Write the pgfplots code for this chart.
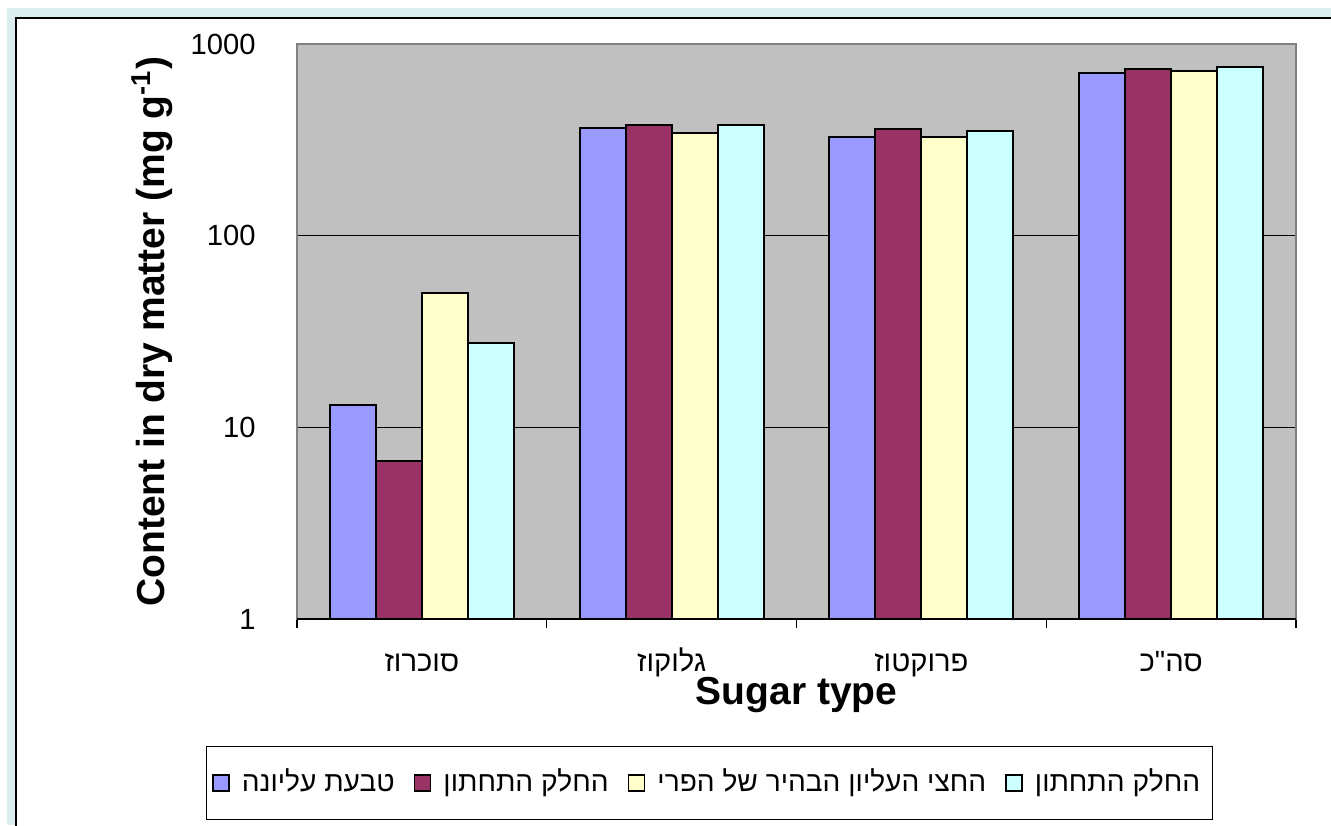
\documentclass[border=0pt]{standalone}
\usepackage{fontspec}
\setmainfont{Liberation Sans}
\newfontfamily\heb[Script=Hebrew]{Liberation Sans}
\usepackage{pgfplots}
\pgfplotsset{compat=1.18}
\TeXXeTstate=1
\definecolor{sA}{RGB}{153,153,255}
\definecolor{sB}{RGB}{153,51,102}
\definecolor{sC}{RGB}{255,255,204}
\definecolor{sD}{RGB}{204,255,255}
\definecolor{plotbg}{RGB}{192,192,192}
\definecolor{band}{RGB}{221,238,240}
\pgfplotsset{/pgfplots/ybar legend/.style={/pgfplots/legend image code/.code={\draw[##1,line width=0.5pt] (0cm,-0.08cm) rectangle (0.16cm,0.08cm);}}}
\newcommand{\tk}{\fontsize{8.3pt}{10pt}\selectfont}
\newcommand{\lgf}{\fontsize{8pt}{10pt}\selectfont}
\newcommand{\lb}{\fontsize{11.1pt}{13pt}\selectfont\bfseries}
\begin{document}
\begin{tikzpicture}
\useasboundingbox (0,0) rectangle (13.31cm,8.25cm);
\clip (0,0) rectangle (13.31cm,8.25cm);
\fill[white] (0,0) rectangle (13.31cm,8.25cm);
\fill[band] (0.07cm,0) rectangle (13.31cm,8.17cm);
\filldraw[fill=white,draw=black,line width=0.4pt] (0.16cm,-0.5cm) rectangle (14cm,8.07cm);
\begin{axis}[
  at={(2.97cm,2.06cm)}, anchor=south west,
  scale only axis, width=9.99cm, height=5.75cm,
  ymode=log, ymin=1, ymax=1000,
  xmin=-0.5, xmax=3.5,
  ybar=0pt, bar width=0.46cm,
  axis background/.style={fill=plotbg},
  axis line style={draw=gray, line width=0.57pt},
  ymajorgrids, major grid style={black, line width=0.3pt},
  xtick={0,1,2,3},
  xticklabels={\beginR סוכרוז\endR, \beginR גלוקוז\endR, \beginR פרוקטוז\endR, \beginR סה"כ\endR},
  minor xtick={-0.5,0.5,1.5,2.5,3.5},
  major tick length=0pt, minor tick length=0.09cm,
  tick align=outside, tick pos=left,
  minor tick style={black, line width=0.3pt},
  yminorticks=false,
  ytick={1,10,100,1000}, yticklabels={1,10,100,1000},
  /pgf/number format/assume math mode=true,
  yticklabel style={font=\tk, xshift=-0.29cm},
  xticklabel style={font=\tk\heb, anchor=base, yshift=-0.52cm},
  xlabel={Sugar type}, ylabel={Content in dry matter (mg g\textsuperscript{-1})},
  xlabel style={font=\lb, at={(axis description cs:0.5,-0.132)}, anchor=center},
  ylabel style={font=\lb, at={(axis description cs:-0.145,0.5)}, anchor=center},
  legend style={at={(axis description cs:0.413,-0.285)}, anchor=center, draw=black, line width=0.4pt,
    font=\lgf\heb, legend columns=4, inner xsep=1.5pt, inner ysep=4.4pt,
    /tikz/every even column/.append style={column sep=0.12cm},
    /tikz/every odd column/.append style={column sep=0.05cm}},
]
\addplot[fill=sA, draw=black, line width=0.6pt] coordinates {(0,13.1) (1,364) (2,327) (3,708)};
\addlegendentry{\beginR טבעת עליונה\endR}
\addplot[fill=sB, draw=black, line width=0.6pt] coordinates {(0,6.7) (1,378) (2,360) (3,740)};
\addlegendentry{\beginR החלק התחתון\endR}
\addplot[fill=sC, draw=black, line width=0.6pt] coordinates {(0,50.4) (1,343) (2,327) (3,722)};
\addlegendentry{\beginR החצי העליון הבהיר של הפרי\endR}
\addplot[fill=sD, draw=black, line width=0.6pt] coordinates {(0,27.6) (1,378) (2,351) (3,758)};
\addlegendentry{\beginR החלק התחתון\endR}
\draw[black, line width=0.6pt] (rel axis cs:0,0) -- (rel axis cs:1,0);
\end{axis}
\end{tikzpicture}
\end{document}
